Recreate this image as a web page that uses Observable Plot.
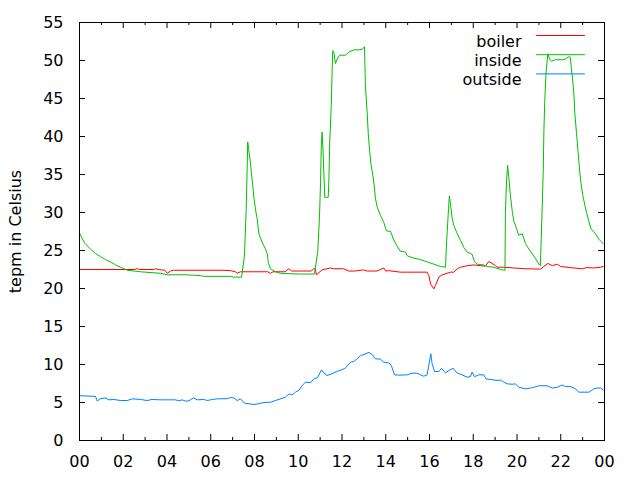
<!DOCTYPE html>
<html><head><meta charset="utf-8">
<script src="https://cdn.jsdelivr.net/npm/d3@7"></script>
<script src="https://cdn.jsdelivr.net/npm/@observablehq/plot@0.6"></script>
<style>body{margin:0;background:#fff}</style>
</head><body><div id="chart"></div>
<script>
const seriesNames = ["boiler", "inside", "outside"];
const seriesColors = ["#ff0000", "#00c000", "#0080ff"];
const yLabel = "tepm in Celsius";
const yTicks = [0, 5, 10, 15, 20, 25, 30, 35, 40, 45, 50, 55];
const xTicks = [0, 2, 4, 6, 8, 10, 12, 14, 16, 18, 20, 22, 24];
const xMinorTicks = [1, 3, 5, 7, 9, 11, 13, 15, 17, 19, 21, 23];

const boilerHours = [0,2.5,2.64,2.75,3.4,3.47,3.6,3.9,4.01,4.16,4.3,6.5,6.9,7.13,7.2,7.36,8.6,8.73,8.85,9.4,9.57,9.7,10.6,10.7,10.78,10.83,11.09,11.47,11.61,12.07,12.3,12.6,12.98,13.15,13.6,13.91,14.0,14.14,14.67,15.89,15.97,16.05,16.2,16.27,16.43,16.58,16.81,16.96,17.11,17.27,17.42,17.72,18.03,18.33,18.56,18.71,18.86,19.02,19.09,19.4,19.85,20.39,21.07,21.23,21.41,21.61,21.84,21.99,22.6,22.98,23.2,23.51,23.82,23.94];
const boilerTemps = [22.5,22.5,22.6,22.5,22.5,22.6,22.5,22.4,22.0,22.3,22.4,22.4,22.35,22.2,22.0,22.2,22.2,22.0,22.2,22.2,22.6,22.3,22.3,22.6,22.6,21.8,22.45,22.7,22.6,22.6,22.3,22.3,22.45,22.3,22.3,22.7,22.3,22.35,22.15,22.15,21.7,20.6,19.95,20.4,21.5,21.8,22.0,22.15,22.15,22.6,22.8,23.0,23.1,23.0,22.95,23.55,23.3,23.0,22.8,22.8,22.7,22.6,22.55,22.9,23.3,23.0,23.2,22.9,22.7,22.6,22.75,22.7,22.8,22.9];

const insideHours = [0.00,0.23,0.50,0.73,0.96,1.19,1.42,1.65,1.87,2.19,2.79,3.70,4.02,4.85,5.53,5.67,6.90,7.04,7.41,7.54,7.62,7.67,7.69,7.73,7.82,7.86,7.92,7.97,8.05,8.12,8.20,8.35,8.50,8.58,8.64,8.73,8.96,9.19,10.10,10.74,10.89,10.97,11.02,11.05,11.09,11.12,11.17,11.21,11.37,11.40,11.44,11.51,11.55,11.58,11.63,11.70,11.78,11.89,12.16,12.31,12.54,12.77,12.92,13.03,13.04,13.07,13.15,13.20,13.26,13.33,13.41,13.47,13.53,13.61,13.76,13.91,14.03,14.22,14.35,14.49,14.67,14.90,14.98,15.28,15.59,15.89,16.20,16.50,16.73,16.78,16.87,16.91,17.04,17.11,17.27,17.42,17.57,17.72,17.87,17.95,18.06,18.18,18.48,18.64,18.94,19.25,19.40,19.45,19.47,19.52,19.57,19.63,19.70,19.79,19.85,19.93,20.01,20.08,20.24,20.39,20.54,20.69,20.85,21.00,21.07,21.15,21.20,21.23,21.27,21.33,21.41,21.49,21.58,21.76,22.09,22.22,22.37,22.44,22.48,22.54,22.60,22.64,22.72,22.80,22.87,22.93,23.01,23.09,23.18,23.28,23.39,23.59,23.74,23.94];
const insideTemps = [27.3,26.0,25.2,24.6,24.2,23.8,23.5,23.1,22.8,22.4,22.2,22.0,21.8,21.8,21.7,21.6,21.6,21.5,21.5,24.3,30.4,36.4,39.3,38.4,36.4,35.1,33.6,32.0,30.3,29.2,27.2,26.1,25.2,24.6,23.3,22.6,22.2,22.0,21.9,21.9,24.8,29.4,34.0,38.4,40.6,39.0,35.1,32.0,32.0,34.4,39.3,44.1,48.9,51.3,51.0,49.6,50.2,50.7,50.7,51.1,51.4,51.4,51.5,51.8,50.2,46.7,43.2,40.4,38.2,36.2,34.9,33.6,31.8,30.7,29.6,28.7,27.6,27.5,26.5,25.7,24.9,24.8,24.3,24.0,23.8,23.5,23.2,22.9,22.8,26.0,30.5,32.2,29.2,28.3,27.2,26.3,25.4,24.8,24.6,24.5,23.5,23.2,23.1,22.9,22.8,22.5,22.4,22.4,30.0,34.0,36.2,34.5,32.2,30.0,28.9,28.3,27.6,27.0,27.2,25.9,25.2,24.6,23.9,23.2,23.0,30.5,35.5,40.8,44.7,48.5,50.9,50.2,49.9,50.1,50.1,50.2,50.5,50.4,49.1,47.6,45.6,43.2,40.4,37.7,35.3,33.8,32.2,31.1,30.0,28.9,27.8,27.2,26.5,25.9];

const outsideHours = [0,0.73,0.81,0.96,1.19,1.34,1.57,1.87,2.18,2.41,2.79,3.09,3.32,3.70,4.39,4.54,4.69,4.85,5.0,5.2,5.38,5.68,5.84,6.07,6.3,6.75,6.9,7.05,7.21,7.36,7.54,7.97,8.12,8.43,8.73,8.96,9.19,9.42,9.57,9.72,9.87,10.03,10.18,10.33,10.56,10.71,10.89,11.06,11.17,11.32,11.55,11.78,12.0,12.16,12.39,12.54,12.69,12.85,13.0,13.23,13.38,13.53,13.76,13.91,14.14,14.25,14.4,14.6,14.98,15.2,15.43,15.59,15.74,15.89,15.98,16.06,16.12,16.23,16.43,16.55,16.73,16.88,17.08,17.27,17.49,17.72,17.87,17.95,18.06,18.25,18.48,18.59,18.86,19.09,19.25,19.4,19.55,19.78,19.93,20.08,20.39,20.62,20.77,21.0,21.38,21.61,21.84,22.06,22.21,22.44,22.67,22.83,23.29,23.51,23.66,23.82,23.94];
const outsideTemps = [5.9,5.8,5.2,5.5,5.6,5.35,5.4,5.26,5.26,5.48,5.4,5.26,5.4,5.35,5.35,5.22,5.35,5.18,5.22,5.6,5.35,5.4,5.26,5.4,5.48,5.5,5.66,5.6,5.26,5.48,4.91,4.74,4.8,5.0,5.04,5.26,5.48,5.7,6.14,6.0,6.36,6.6,7.24,7.68,7.6,8.1,8.3,9.3,8.9,8.55,8.8,9.1,9.3,9.55,10.3,10.4,10.75,11.2,11.3,11.6,11.3,10.75,10.7,10.3,10.2,9.9,8.64,8.6,8.64,8.86,8.86,8.64,8.46,8.64,10.1,11.4,10.1,9.08,9.08,9.5,8.9,9.2,9.5,8.86,8.64,8.33,8.4,9.0,8.4,8.64,8.64,8.1,8.0,7.9,7.95,7.68,7.46,7.4,7.46,7.0,6.8,6.9,7.0,7.2,7.2,6.9,7.0,7.3,7.1,7.1,6.8,6.36,6.36,6.8,6.9,6.9,6.66];

const rows = [
  ...boilerHours.map((h, i) => ({series: "boiler", hour: h, temp: boilerTemps[i]})),
  ...insideHours.map((h, i) => ({series: "inside", hour: h, temp: insideTemps[i]})),
  ...outsideHours.map((h, i) => ({series: "outside", hour: h, temp: outsideTemps[i]}))
];

const W = 640, H = 480, mL = 79, mR = 36, mT = 22, mB = 40;
const innerW = W - mL - mR, innerH = H - mT - mB;
const lineShape = {draw(context, l) { context.moveTo(0, 0); context.lineTo(0, -l); }};

const legendMarks = seriesNames.flatMap((name, i) => [
  Plot.text([name], {text: d => d, frameAnchor: "top-right", textAnchor: "end", dx: -83, dy: 13 + 19.2 * i, fill: "black"}),
  Plot.vector([name], {frameAnchor: "top-right", dx: -20, dy: 13 + 19.2 * i, length: 48, rotate: -90, anchor: "start", shape: lineShape, stroke: seriesColors[i], strokeWidth: 1})
]);

const chart = Plot.plot({
  width: W, height: H,
  marginLeft: mL, marginRight: mR, marginTop: mT, marginBottom: mB,
  style: {fontFamily: "'DejaVu Sans', sans-serif", fontSize: "16px", color: "black", background: "white"},
  x: {type: "linear", domain: [0, 24]},
  y: {type: "linear", domain: [0, 55]},
  color: {domain: seriesNames, range: seriesColors},
  marks: [
    Plot.line(rows, {x: "hour", y: "temp", z: "series", stroke: "series", strokeWidth: 1}),
    Plot.frame({stroke: "black", strokeWidth: 1}),
    Plot.tickY(yTicks, {y: d => d, insetRight: innerW - 6, stroke: "black"}),
    Plot.tickY(yTicks, {y: d => d, insetLeft: innerW - 6, stroke: "black"}),
    Plot.tickX(xTicks, {x: d => d, insetTop: innerH - 6, stroke: "black"}),
    Plot.tickX(xTicks, {x: d => d, insetBottom: innerH - 6, stroke: "black"}),
    Plot.tickX(xMinorTicks, {x: d => d, insetTop: innerH - 3, stroke: "black"}),
    Plot.tickX(xMinorTicks, {x: d => d, insetBottom: innerH - 3, stroke: "black"}),
    Plot.axisY({ticks: yTicks, tickSize: 0, tickPadding: 16, label: null}),
    Plot.axisX({ticks: xTicks, tickSize: 0, tickPadding: 15, label: null, tickFormat: d => String(d % 24).padStart(2, "0")}),
    Plot.text([yLabel], {text: d => d, frameAnchor: "left", textAnchor: "middle", dx: -64, rotate: -90, fill: "black"}),
    ...legendMarks
  ]
});
document.getElementById("chart").append(chart);
</script>
</body></html>
